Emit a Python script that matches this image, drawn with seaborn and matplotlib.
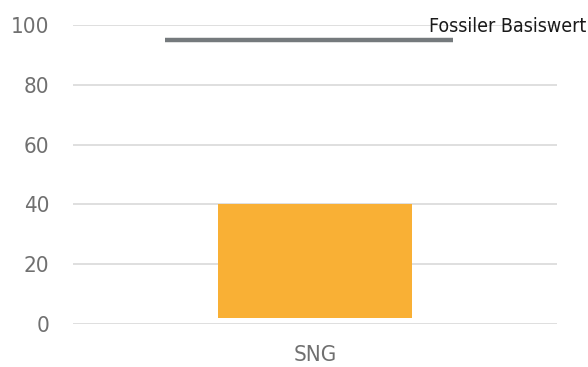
import matplotlib
matplotlib.use("Agg")
import matplotlib.pyplot as plt
import seaborn as sns
import pandas as pd

# Data
categories = ["SNG"]
range_low = [2]
range_high = [40]
fossil_baseline = 95
baseline_label = "Fossiler Basiswert"
y_ticks = [0, 20, 40, 60, 80, 100]

sns.set_theme(style="white")
plt.rcParams["font.family"] = ["DejaVu Sans"]
plt.rcParams["font.stretch"] = "condensed"

df = pd.DataFrame({
    "category": categories,
    "span": [h - l for l, h in zip(range_low, range_high)],
    "low": range_low,
})

fig = plt.figure(figsize=(5.88, 3.67), dpi=100)
ax = fig.add_axes([0.124, 0.117, 0.823, 0.815])

sns.barplot(data=df, x="category", y="span", bottom=df["low"].values,
            color="#F9B035", saturation=1, width=0.4, linewidth=0,
            ax=ax, zorder=3)

ax.hlines(fossil_baseline, -0.31, 0.285, color="#757A7D", linewidth=3.2, zorder=4)
ax.text(0.56, 97.8, baseline_label, ha="right", va="baseline", fontsize=14,
        fontstretch="condensed", color="#1a1a1a", clip_on=False, zorder=5)

ax.set_xlim(-0.5, 0.5)
ax.set_ylim(0, 100)
ax.set_yticks(y_ticks)
ax.grid(axis="y", color="#D9D9D9", linewidth=1.2, zorder=0)
ax.set_axisbelow(True)
for s in ax.spines.values():
    s.set_visible(False)
ax.tick_params(axis="both", length=0, labelsize=16, labelcolor="#707070")
ax.tick_params(axis="y", pad=17)
ax.tick_params(axis="x", pad=15)
for lbl in ax.get_xticklabels() + ax.get_yticklabels():
    lbl.set_fontstretch("condensed")
ax.set_xlabel("")
ax.set_ylabel("")

fig.savefig("out.png", dpi=100)
